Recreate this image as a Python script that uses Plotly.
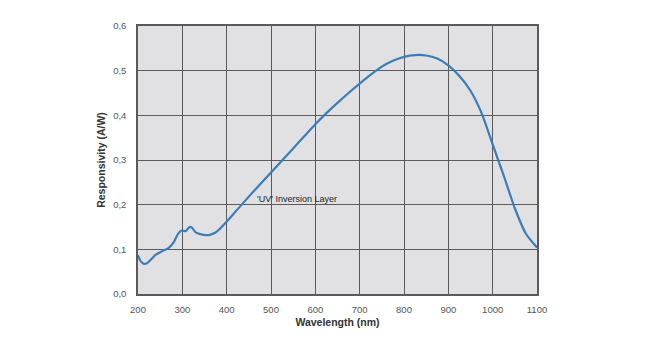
import plotly.graph_objects as go

wavelength = [200, 205, 212, 220, 230, 240, 255, 270, 280, 290, 298, 308, 316, 322, 330, 345,
              360, 374, 385, 400, 425, 450, 475, 500, 525, 550, 575, 600, 625, 650, 675, 700,
              725, 750, 775, 800, 825, 850, 875, 900, 925, 950, 975, 1000, 1025, 1050, 1075, 1100]
responsivity = [0.087, 0.075, 0.068, 0.069, 0.078, 0.088, 0.096, 0.104, 0.115, 0.134, 0.142, 0.141,
                0.150, 0.148, 0.138, 0.133, 0.132, 0.137, 0.146, 0.162, 0.190, 0.218, 0.245, 0.272,
                0.299, 0.326, 0.353, 0.380, 0.405, 0.428, 0.450, 0.471, 0.491, 0.509, 0.522, 0.531,
                0.535, 0.534, 0.527, 0.512, 0.488, 0.455, 0.405, 0.335, 0.265, 0.192, 0.135, 0.104]

x_ticks = [200, 300, 400, 500, 600, 700, 800, 900, 1000, 1100]
y_ticks = [0.0, 0.1, 0.2, 0.3, 0.4, 0.5, 0.6]
y_tick_labels = ["0,0", "0,1", "0,2", "0,3", "0,4", "0,5", "0,6"]

annotation_text = "'UV' Inversion Layer"
annotation_x = 559
annotation_y = 0.2125

fig = go.Figure()
fig.add_trace(go.Scatter(
    x=wavelength, y=responsivity, mode="lines",
    line=dict(color="#3a7db8", width=2.2, shape="spline", smoothing=0.6),
    hoverinfo="skip", showlegend=False,
))

fig.add_annotation(
    x=annotation_x, y=annotation_y, text=annotation_text, showarrow=False,
    font=dict(family="Liberation Sans, Arial, sans-serif", size=9, color="#222222"),
    xanchor="center", yanchor="middle",
)

fig.update_layout(
    width=668, height=338,
    margin=dict(l=138, r=131, t=26, b=44),
    paper_bgcolor="white",
    plot_bgcolor="#e1e1e3",
    font=dict(family="Liberation Sans, Arial, sans-serif", color="#444444"),
)

fig.update_xaxes(
    range=[200, 1100], tickvals=x_ticks, ticktext=[str(v) for v in x_ticks],
    showgrid=True, gridcolor="#5a5a5a", gridwidth=1.2,
    showline=True, linecolor="#5a5a5a", linewidth=1.5, mirror=True,
    zeroline=False, ticks="", ticklabelstandoff=6,
    tickfont=dict(size=9.5, color="#555555"),
    title=dict(text="<b>Wavelength (nm)</b>", font=dict(size=10.5, color="#333333"), standoff=4),
)
fig.update_yaxes(
    range=[0, 0.6], tickvals=y_ticks, ticktext=y_tick_labels,
    showgrid=True, gridcolor="#5a5a5a", gridwidth=1.2,
    showline=True, linecolor="#5a5a5a", linewidth=1.5, mirror=True,
    zeroline=False, ticks="", ticklabelstandoff=8,
    tickfont=dict(size=9.5, color="#555555"),
    title=dict(text="<b>Responsivity (A/W)</b>", font=dict(size=10.5, color="#333333"), standoff=5),
)

fig.write_html("out.html")
